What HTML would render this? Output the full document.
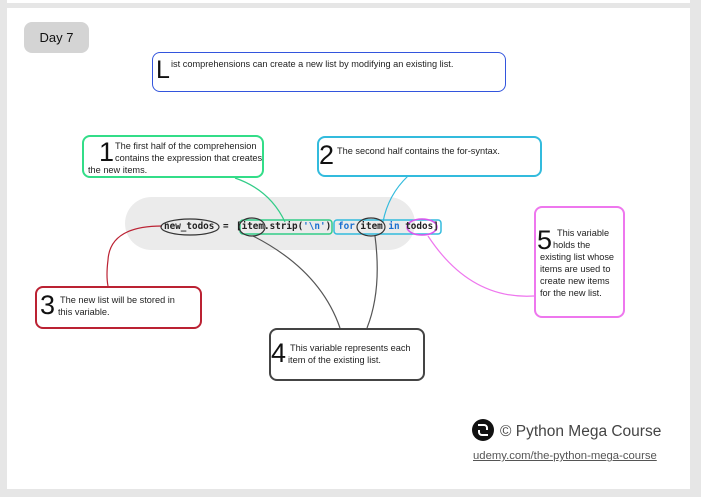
<!DOCTYPE html>
<html><head><meta charset="utf-8"><style>
*{margin:0;padding:0;box-sizing:border-box}
body{width:701px;height:497px;background:#e6e6e6;position:relative;overflow:hidden;font-family:"Liberation Sans",sans-serif;color:#222}
.a{position:absolute}
.box{position:absolute;background:#fff;border:2px solid;border-radius:8px}
.t{position:absolute;font-size:9.2px;line-height:12px;color:#222;white-space:nowrap}
.n{position:absolute;font-size:27px;line-height:27px;color:#111}
.code{position:absolute;font-family:"DejaVu Sans Mono","Liberation Mono",monospace;font-weight:bold;font-size:9.3px;line-height:12px;top:221px;color:#222;white-space:pre}
.b{color:#1a6fd0}
</style></head><body>
<div class="a" style="left:7px;top:0;width:683px;height:3px;background:#fff"></div>
<div class="a" style="left:7px;top:8px;width:683px;height:481px;background:#fff"></div>
<div class="a" style="left:24px;top:22px;width:65px;height:31px;background:#d4d4d4;border-radius:8px;font-size:13px;line-height:31px;text-align:center;color:#111">Day 7</div>

<div class="box" style="left:152px;top:52px;width:354px;height:40px;border-color:#3355dd;border-width:1.5px"></div>
<div class="a" style="left:156px;top:58px;font-size:25px;line-height:25px;color:#111">L</div>
<div class="t" style="left:171px;top:58px">ist comprehensions can create a new list by modifying an existing list.</div>

<div class="a" style="left:125px;top:197px;width:290px;height:53px;background:#ebebeb;border-radius:30px"></div>

<svg class="a" style="left:0;top:0" width="701" height="497">
<g fill="none" stroke-width="1.2">
<path d="M235 178 Q270 190 285 222" stroke="#33cc88"/>
<path d="M408 176 Q388 195 383 222" stroke="#33bbdd"/>
<path d="M162 226 Q110 226 108 260 Q106 276 108 286" stroke="#bb2233"/>
<path d="M253 236 Q320 270 340 328" stroke="#555"/>
<path d="M375 236 Q382 290 367 328" stroke="#555"/>
<path d="M428 236 Q470 300 534 296" stroke="#ee77ee"/>
<rect x="240" y="220" width="92" height="14" rx="3" stroke="#33cc88" stroke-width="1.5"/>
<rect x="334" y="220" width="107" height="14" rx="3" stroke="#33bbdd" stroke-width="1.5"/>
<ellipse cx="190" cy="227" rx="29" ry="8" stroke="#333"/>
<ellipse cx="252" cy="227" rx="13" ry="9" stroke="#333"/>
<ellipse cx="371" cy="227" rx="14" ry="9" stroke="#333"/>
<ellipse cx="422" cy="227" rx="15" ry="8" stroke="#dd55ee" stroke-width="1.5"/>
</g>
<circle cx="483" cy="430" r="11" fill="#111"/>
<path d="M478 425 h6 a3 3 0 0 1 3 3 v2 M488 435 h-6 a3 3 0 0 1 -3 -3 v-2" stroke="#fff" stroke-width="2" fill="none"/>
</svg>

<div class="code" style="left:164px">new_todos</div>
<div class="code" style="left:223px">=</div>
<div class="code" style="left:236px">[item.strip(<span class="b">'\n'</span>)</div>
<div class="code" style="left:338px"><span class="b">for</span> item <span class="b">in</span> todos]</div>

<div class="box" style="left:82px;top:135px;width:182px;height:43px;border-color:#33dd88"></div>
<div class="n" style="left:99px;top:139px">1</div>
<div class="t" style="left:115px;top:140px">The first half of the comprehension</div>
<div class="t" style="left:115px;top:152px">contains the expression that creates</div>
<div class="t" style="left:88px;top:164px">the new items.</div>

<div class="box" style="left:317px;top:136px;width:225px;height:41px;border-color:#33bbdd"></div>
<div class="n" style="left:319px;top:142px">2</div>
<div class="t" style="left:337px;top:145px">The second half contains the for-syntax.</div>

<div class="box" style="left:35px;top:286px;width:167px;height:43px;border-color:#bb2233"></div>
<div class="n" style="left:40px;top:292px">3</div>
<div class="t" style="left:60px;top:294px">The new list will be stored in</div>
<div class="t" style="left:58px;top:306px">this variable.</div>

<div class="box" style="left:269px;top:328px;width:156px;height:53px;border-color:#444"></div>
<div class="n" style="left:271px;top:340px">4</div>
<div class="t" style="left:290px;top:342px">This variable represents each</div>
<div class="t" style="left:288px;top:354px">item of the existing list.</div>

<div class="box" style="left:534px;top:206px;width:91px;height:112px;border-color:#ee77ee"></div>
<div class="n" style="left:537px;top:227px">5</div>
<div class="t" style="left:557px;top:227px">This variable</div>
<div class="t" style="left:553px;top:239px">holds the</div>
<div class="t" style="left:540px;top:251px">existing list whose</div>
<div class="t" style="left:540px;top:263px">items are used to</div>
<div class="t" style="left:540px;top:275px">create new items</div>
<div class="t" style="left:540px;top:287px">for the new list.</div>

<div class="a" style="left:500px;top:423px;font-size:15.5px;line-height:18px;color:#444;white-space:nowrap">© Python Mega Course</div>
<div class="a" style="left:473px;top:450px;font-size:11.3px;line-height:13px;color:#555;text-decoration:underline;white-space:nowrap">udemy.com/the-python-mega-course</div>
</body></html>
